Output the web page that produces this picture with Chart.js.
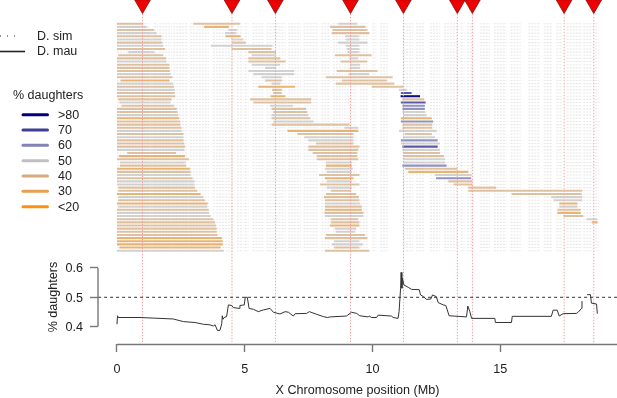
<!DOCTYPE html>
<html><head><meta charset="utf-8">
<style>html,body{margin:0;padding:0;background:#fff;overflow:hidden}canvas{display:block;filter:blur(.35px)}</style>
<script src="https://cdn.jsdelivr.net/npm/chart.js@4/dist/chart.umd.js"></script>
</head><body><canvas id="c" width="617" height="398"></canvas>
<script>
// percent-daughters classes shown in the legend
const classLabels = ['>80','70','60','50','40','30','<20'];
const classKeys = [80,70,60,50,40,30,20];
const classColors = ['#00007f','#3f3f97','#8383b6','#c0c0c0','#d4ac80','#e3a24f','#ff8f10'];
const tractColors = ['rgba(0,0,127,.95)','rgba(63,63,151,.85)','rgba(120,120,178,.8)','rgba(190,190,190,.66)','rgba(212,172,128,.72)','rgba(227,162,79,.78)','rgba(255,143,16,.8)'];
// D. mau tracts: [row, start Mb, end Mb, class]
const tracts = [
[0,0,1.03,40],[0,2.99,4.81,40],[0,8.66,9.41,50],
[1,0,1.16,50],[1,3.41,4.38,30],[1,8.34,9.73,40],
[2,0,1.46,40],[2,4.36,4.71,50],[2,8.43,9.8,40],
[3,0,1.55,50],[3,4.23,4.68,50],[3,8.4,9.88,40],
[4,0,1.75,40],[4,4.24,4.84,30],[4,8.93,9.49,50],
[5,0,1.75,50],[5,4.49,4.94,50],[5,8.96,9.49,50],
[6,0,1.77,40],[6,4.51,5.04,40],[6,8.66,9.8,50],
[7,0,1.81,50],[7,3.67,6.09,50],[7,8.96,9.49,50],
[8,0,1.88,40],[8,4.49,6.05,40],[8,8.99,9.49,50],
[9,.44,1.46,50],[9,5.14,6.22,40],[9,9.02,9.49,50],
[10,.05,1.81,40],[10,5.27,6.22,50],[10,8.53,9.97,40],
[11,0,1.92,40],[11,5.14,6.39,40],[11,9.09,9.45,50],
[12,0,1.94,50],[12,5.14,6.6,40],[12,8.76,9.8,40],
[13,0,2.05,40],[13,5.27,6.38,50],[13,9.12,9.51,50],
[14,0,2.05,40],[14,5.79,6.22,50],[14,9.12,9.51,50],
[15,0,2.07,40],[15,5.14,6.93,50],[15,8.6,10.2,40],
[16,0,2.1,50],[16,5.34,6.93,50],[16,9.06,9.88,50],
[17,0,2.17,40],[17,5.66,6.45,50],[17,8.18,10.79,40],
[18,.14,2.05,30],[18,5.79,6.45,40],[18,8.8,10.56,40],
[19,0,2.2,50],[19,6.05,6.4,50],[19,8.56,10.86,40],
[20,0,2.23,40],[20,5.53,6.97,30],[20,9.97,11.2,40],
[21,0,2.26,50],[21,6.07,6.45,40],[21,11.04,11.34,50],
[22,0,2.26,40],[22,6.12,6.45,40],[22,11.11,11.53,70],
[23,0,2.28,40],[23,6.01,6.59,30],[23,11.1,11.86,80],
[24,.05,2.14,40],[24,5.21,7.6,40],[24,11.17,12.03,40],
[25,.09,2.1,50],[25,5.34,7.6,40],[25,11.11,12.08,70],
[26,.18,2.23,40],[26,5.99,6.88,50],[26,11.17,12.05,60],
[27,0,2.34,40],[27,6.05,7.4,40],[27,11.17,12.05,60],
[28,0,2.37,40],[28,6.12,7.45,40],[28,11.17,12.08,50],
[29,0,2.4,50],[29,6.05,7.49,50],[29,11.21,12.12,50],
[30,0,2.43,30],[30,6.05,7.56,40],[30,11.11,12.32,30],
[31,0,2.47,40],[31,6.12,7.69,50],[31,11.11,12.37,60],
[32,0,2.48,40],[32,6.05,9.1,40],[32,11.17,12.34,40],
[33,0,2.53,40],[33,8.9,9.45,50],[33,11.17,12.34,40],
[34,0,2.53,50],[34,6.67,9.45,30],[34,11.04,12.51,50],
[35,0,2.6,40],[35,7.06,9.25,40],[35,11.27,12.32,40],
[36,0,2.6,50],[36,7.33,9.25,50],[36,11.21,12.45,50],
[37,0,2.6,40],[37,7.49,9.25,50],[37,11.11,12.55,60],
[38,0,2.63,40],[38,7.79,9.25,40],[38,11.11,12.64,50],
[39,0,2.66,40],[39,7.49,9.49,40],[39,11.17,12.55,70],
[40,0,2.64,50],[40,7.49,9.45,40],[40,11.17,12.64,50],
[41,.4,2.31,40],[41,7.66,9.41,40],[41,11.21,12.64,40],
[42,.08,2.66,30],[42,7.82,9.41,40],[42,11.21,12.8,40],
[43,0,2.82,40],[43,7.82,9.45,40],[43,11.21,12.84,50],
[44,.12,2.69,50],[44,8.18,9.19,50],[44,11.21,12.84,50],
[45,.12,2.7,40],[45,8.18,9.19,30],[45,11.17,12.9,60],
[46,0,2.86,30],[46,8.14,9.23,50],[46,11.27,13.32,40],
[47,0,2.88,40],[47,8.21,9.19,50],[47,11.4,13.75,30],
[48,0,2.88,50],[48,7.91,9.49,40],[48,12.45,13.88,50],
[49,0,2.96,40],[49,8.14,9.25,30],[49,12.49,13.86,60],
[50,0,3.03,50],[50,8.21,9.19,50],[50,12.97,13.91,40],
[51,0,3.03,50],[51,7.95,9.49,40],[51,13.17,13.91,40],
[52,.05,3.05,40],[52,8.21,9.19,50],[52,13.75,14.84,40],
[53,.05,3.14,40],[53,8.36,9.15,40],[53,13.75,18.21,40],
[54,0,3.27,30],[54,8.18,9.36,40],[54,15.45,18.19,40],
[55,.05,3.38,50],[55,8.1,9.47,40],[55,17,18.21,50],
[56,.05,3.44,40],[56,8.14,9.49,40],[56,17.08,18.21,50],
[57,0,3.55,30],[57,8.14,9.51,50],[57,17.31,18.02,30],
[58,.05,3.54,50],[58,8.14,9.58,40],[58,17.31,18.02,50],
[59,0,3.59,40],[59,8.14,9.58,30],[59,17.24,18.15,40],
[60,0,3.61,50],[60,8.12,9.64,40],[60,17.24,18.15,30],
[61,0,3.67,50],[61,8.14,9.64,50],[61,17.47,18.25,40],
[62,0,3.77,40],[62,8.36,9.45,40],[62,18.38,18.8,50],
[63,0,3.84,40],[63,8.36,9.49,40],[63,18.58,18.81,30],
[64,0,3.87,40],[64,8.33,9.49,30],
[65,0,3.9,40],[65,8.53,9.36,50],
[66,0,3.9,40],[66,8.56,9.32,50],
[67,0,3.93,40],[67,8.18,9.71,40],
[68,0,4.1,30],[68,8.14,9.8,40],
[69,0,4.14,30],[69,8.5,9.49,50],
[70,0,4.14,30],[70,8.4,9.62,50],
[71,.09,4.06,30],[71,8.5,9.49,40],
[72,0,4.18,50],[72,8.14,9.88,40]
];
const rowCount = 73;
// D. sim marker stretches, shared by every row
const simStretches = [[0,1.25],[1.45,1.6],[1.65,2.15],[2.2,2.75],[2.85,3.6],[3.75,4.6],[4.7,4.95],[5,5.15],[5.3,5.75],[5.85,6.6],[6.7,7.2],[7.3,7.9],[8,8.35],[8.45,8.85],[8.9,9.4],[9.5,9.85],[10,10.15],[10.3,10.6],[11.2,11.6],[11.7,12.05],[12.25,12.65],[12.8,13.3],[13.45,13.6],[13.7,13.95],[14.2,14.6],[14.75,15.25],[15.4,15.8],[16.1,16.55],[16.7,17.05],[17.2,17.4],[17.6,18.2],[18.25,18.6],[18.7,18.85]];
// candidate sites (Mb)
const sites = [1,4.5,6.2,9.14,11.21,13.32,13.91,17.5,18.66];
// %-daughters trace: position (Mb) and value; null marks the break
const tracePos = [0,.02,.05,.9,1.42,2.2,2.6,3.05,3.38,3.64,3.77,3.84,3.93,4.03,4.1,4.12,4.15,4.19,4.29,4.36,4.49,4.55,4.79,4.81,4.98,5.02,5.1,5.17,5.34,5.53,5.73,5.99,6.12,6.38,6.58,6.71,6.9,6.97,7.42,7.53,7.81,8.08,8.23,8.33,8.98,9.18,9.38,9.5,9.83,9.87,9.96,10.16,10.22,10.74,10.81,11,11.04,11.1,11.12,11.15,11.17,11.23,11.4,11.53,11.83,11.88,12,12.11,12.28,12.35,12.5,12.57,12.77,12.87,13,13.35,13.68,13.73,13.81,13.88,14.79,14.81,15.44,15.47,17,17.07,17.23,17.31,17.46,17.98,18.05,18.18,18.2,18.3,18.4,18.53,18.57,18.77,18.8];
const traceVal = [.408,.437,.431,.431,.429,.426,.417,.414,.408,.406,.402,.406,.387,.387,.41,.437,.425,.431,.434,.474,.472,.465,.462,.472,.474,.5,.5,.462,.459,.451,.457,.462,.449,.443,.451,.449,.436,.444,.445,.451,.442,.434,.431,.433,.436,.449,.445,.437,.433,.436,.431,.431,.439,.436,.431,.428,.451,.531,.585,.531,.565,.542,.534,.527,.526,.508,.502,.493,.494,.508,.502,.482,.474,.472,.437,.435,.433,.47,.451,.428,.428,.414,.414,.435,.435,.456,.456,.436,.444,.445,.449,.462,.487,null,.509,.509,.48,.477,.444];
const xTicks = [0,5,10,15];
const yTicks = [.4,.5,.6];
const refLevel = .5;

const FONT = {family:'"Liberation Sans",Arial,sans-serif', size:12.6};
const TEXT = '#222';
const AXIS = '#777';

function gapped(list){const o=[];list.forEach(p=>{o.push(...p);o.push({x:p[p.length-1].x,y:null});});return o;}
function noPad(s){s.paddingLeft=s.paddingRight=s.paddingTop=s.paddingBottom=0;}

const simData = [];
for(let r=0;r<rowCount;r++) simStretches.forEach(s=>{simData.push({x:s[0],y:r},{x:s[1],y:r},{x:s[1],y:null});});

const classSets = classKeys.map((k,i)=>({
  label:classLabels[i],
  data:gapped(tracts.filter(t=>t[3]===k).map(t=>[{x:t[1],y:t[0]},{x:t[2],y:t[0]}])),
  yAxisID:'rows',showLine:true,pointRadius:0,borderColor:tractColors[i],borderWidth:2.1,borderCapStyle:'butt',clip:false,order:3
}));

const siteTop = -6, siteBottom = 101, triangleRow = -6.15;
const datasets = [
 {label:'D. sim',data:simData,yAxisID:'rows',showLine:true,pointRadius:0,borderColor:'#e8e8e8',borderWidth:1.1,borderDash:[2,1],clip:false,order:5},
 ...classSets,
 {label:'sites',data:gapped(sites.map(s=>[{x:s,y:siteTop},{x:s,y:siteBottom}])),yAxisID:'rows',showLine:true,pointRadius:0,borderColor:'#f2a0a0',borderWidth:1,borderDash:[1.5,1.5],clip:false,order:2},
 {label:'site markers',data:sites.map(s=>({x:s,y:triangleRow})),yAxisID:'rows',showLine:false,pointStyle:'triangle',rotation:180,pointRadius:9.2,pointBackgroundColor:'#f00000',pointBorderColor:'#7a1010',pointBorderWidth:.8,clip:false,order:1},
 {label:'% daughters',data:tracePos.map((x,i)=>({x,y:traceVal[i]})),yAxisID:'pct',showLine:true,pointRadius:0,borderColor:'#333',borderWidth:1,clip:false,order:1},
 {label:'0.5',data:[{x:-.74,y:refLevel},{x:19.57,y:refLevel}],yAxisID:'pct',showLine:true,pointRadius:0,borderColor:'#333',borderWidth:1,borderDash:[3,3],clip:false,order:1}
];

const decor = {
  id:'decor',
  afterDraw(chart){
    const c=chart.ctx,x=chart.scales.x,p=chart.scales.pct,b=chart.chartArea.bottom;
    c.save();
    c.strokeStyle=AXIS;c.lineWidth=1.4;c.setLineDash([]);
    c.beginPath();c.moveTo(x.getPixelForValue(0),b+.5);c.lineTo(x.right,b+.5);c.stroke();
    const ax=chart.chartArea.left;
    c.beginPath();c.moveTo(ax,p.getPixelForValue(yTicks[0]));c.lineTo(ax,p.getPixelForValue(yTicks[2]));c.stroke();
    // legend
    c.font='12.5px '+FONT.family;c.fillStyle=TEXT;c.textBaseline='middle';c.textAlign='left';
    c.fillText('D. sim',37,36.5);c.fillText('D. mau',37,52);
    c.strokeStyle='#222';c.lineWidth=1;c.setLineDash([1,6]);c.beginPath();c.moveTo(0,36);c.lineTo(20,36);c.stroke();
    c.setLineDash([]);c.lineWidth=1.6;c.beginPath();c.moveTo(0,51.5);c.lineTo(25,51.5);c.stroke();
    c.fillText('% daughters',13,95.5);
    classLabels.forEach((t,i)=>{
      const y=114.7+15.33*i;
      c.strokeStyle=classColors[i];c.lineWidth=3;c.lineCap='round';c.beginPath();c.moveTo(23,y);c.lineTo(47.5,y);c.stroke();
      c.fillStyle=TEXT;c.fillText(t,58,y+.5);
    });
    c.restore();
  }
};

new Chart(document.getElementById('c'),{
  type:'scatter',
  data:{datasets},
  plugins:[decor],
  options:{
    responsive:false,animation:false,
    layout:{autoPadding:false,padding:{left:46,right:0,top:0,bottom:0}},
    plugins:{legend:{display:false},tooltip:{enabled:false}},
    scales:{
      x:{type:'linear',min:-.7436,max:19.57,
        border:{display:false},
        grid:{display:true,drawOnChartArea:false,drawTicks:true,tickLength:8,tickColor:AXIS,tickWidth:1.4},
        afterBuildTicks(s){s.ticks=xTicks.map(v=>({value:v}));},
        afterFit(s){s.height=54;noPad(s);},
        ticks:{autoSkip:false,maxRotation:0,padding:10,color:TEXT,font:FONT,callback:v=>String(v)},
        title:{display:true,text:'X Chromosome position (Mb)',color:TEXT,font:FONT,padding:{top:0,bottom:0}}
      },
      rows:{type:'linear',position:'left',stack:'panels',stackWeight:250,weight:1,display:false,reverse:true,min:-7.517,max:71.77,afterFit(s){s.width=52;noPad(s);}},
      pct:{type:'linear',position:'left',stack:'panels',stackWeight:94,weight:0,min:.3406,max:.6614,
        border:{display:false},
        grid:{display:true,drawOnChartArea:false,drawTicks:true,tickLength:8,tickColor:AXIS,tickWidth:1.4},
        afterBuildTicks(s){s.ticks=yTicks.map(v=>({value:v}));},
        afterFit(s){s.width=52;noPad(s);},
        ticks:{autoSkip:false,padding:7,labelOffset:1,color:TEXT,font:FONT,callback:v=>Number(v).toFixed(1)},
        title:{display:true,text:'% daughters',color:TEXT,font:FONT,padding:{top:0,bottom:0}}
      }
    }
  }
});
</script></body></html>
